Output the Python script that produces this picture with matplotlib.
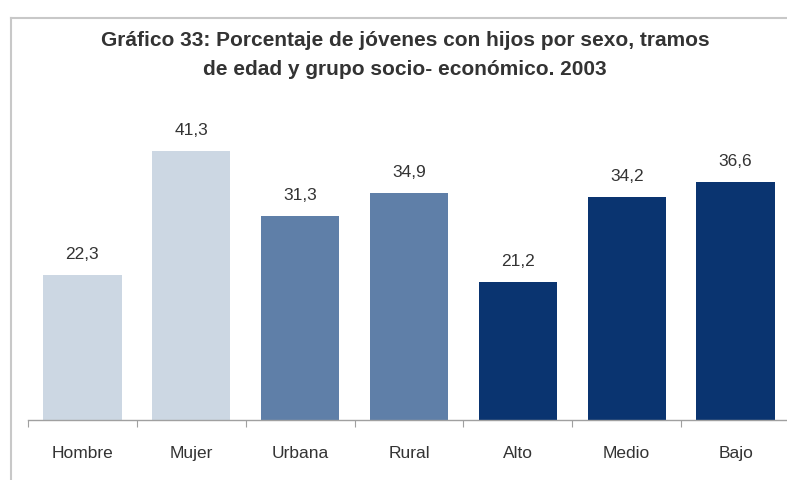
import matplotlib
matplotlib.use("Agg")
import matplotlib.pyplot as plt

categories = ["Hombre", "Mujer", "Urbana", "Rural", "Alto", "Medio", "Bajo"]
values = [22.3, 41.3, 31.3, 34.9, 21.2, 34.2, 36.6]
groups = ["sexo", "sexo", "zona", "zona", "gse", "gse", "gse"]
title = "Gráfico 33: Porcentaje de jóvenes con hijos por sexo, tramos\nde edad y grupo socio- económico. 2003"

group_colors = {"sexo": "#CCD7E3", "zona": "#5F7FA8", "gse": "#0A3470"}

fam = ["Liberation Sans", "DejaVu Sans"]
plt.rcParams["font.family"] = fam

W, H = 787, 480
fig = plt.figure(figsize=(W / 100, H / 100), dpi=100)
fig.patch.set_facecolor("white")

# frame (top and left visible)
fig.add_artist(plt.Line2D([11 / W, 11 / W], [0, 1 - 18 / H], transform=fig.transFigure,
                          color="#C8C8C8", lw=1.5))
fig.add_artist(plt.Line2D([11 / W, 1], [1 - 18 / H, 1 - 18 / H], transform=fig.transFigure,
                          color="#C8C8C8", lw=1.5))

left = 28 / W
right = 790 / W
bottom = 60 / H
ymax = 45
px_per_unit = (420 - 151) / 41.3
height_px = ymax * px_per_unit
ax = fig.add_axes([left, bottom, right - left, height_px / H])

x = list(range(len(categories)))
colors = [group_colors[g] for g in groups]
ax.bar(x, values, width=0.72, color=colors, edgecolor="none")
for xi, v in zip(x, values):
    ax.text(xi, v + 2.0, f"{v:.1f}".replace(".", ","), ha="center", va="bottom",
            fontsize=12.5, color="#333333")

ax.set_xlim(-0.5, len(categories) - 0.5)
ax.set_ylim(0, ymax)
for s in ["top", "right", "left"]:
    ax.spines[s].set_visible(False)
ax.spines["bottom"].set_color("#A0A0A0")
ax.spines["bottom"].set_linewidth(1.0)
ax.set_yticks([])
ax.set_xticks([i - 0.5 for i in x], minor=False)
ax.set_xticklabels([])
ax.tick_params(axis="x", which="major", length=5, color="#A0A0A0", direction="out")
ax.set_xticks(x, minor=True)
ax.set_xticklabels(categories, minor=True, fontsize=12.5, color="#333333")
ax.tick_params(axis="x", which="minor", length=0, pad=19)

fig.text(405 / W, 1 - 55 / H, title, ha="center", va="center", fontsize=15,
         fontweight="bold", color="#333333", linespacing=1.7)

fig.savefig("out.png", dpi=100, facecolor="white")
